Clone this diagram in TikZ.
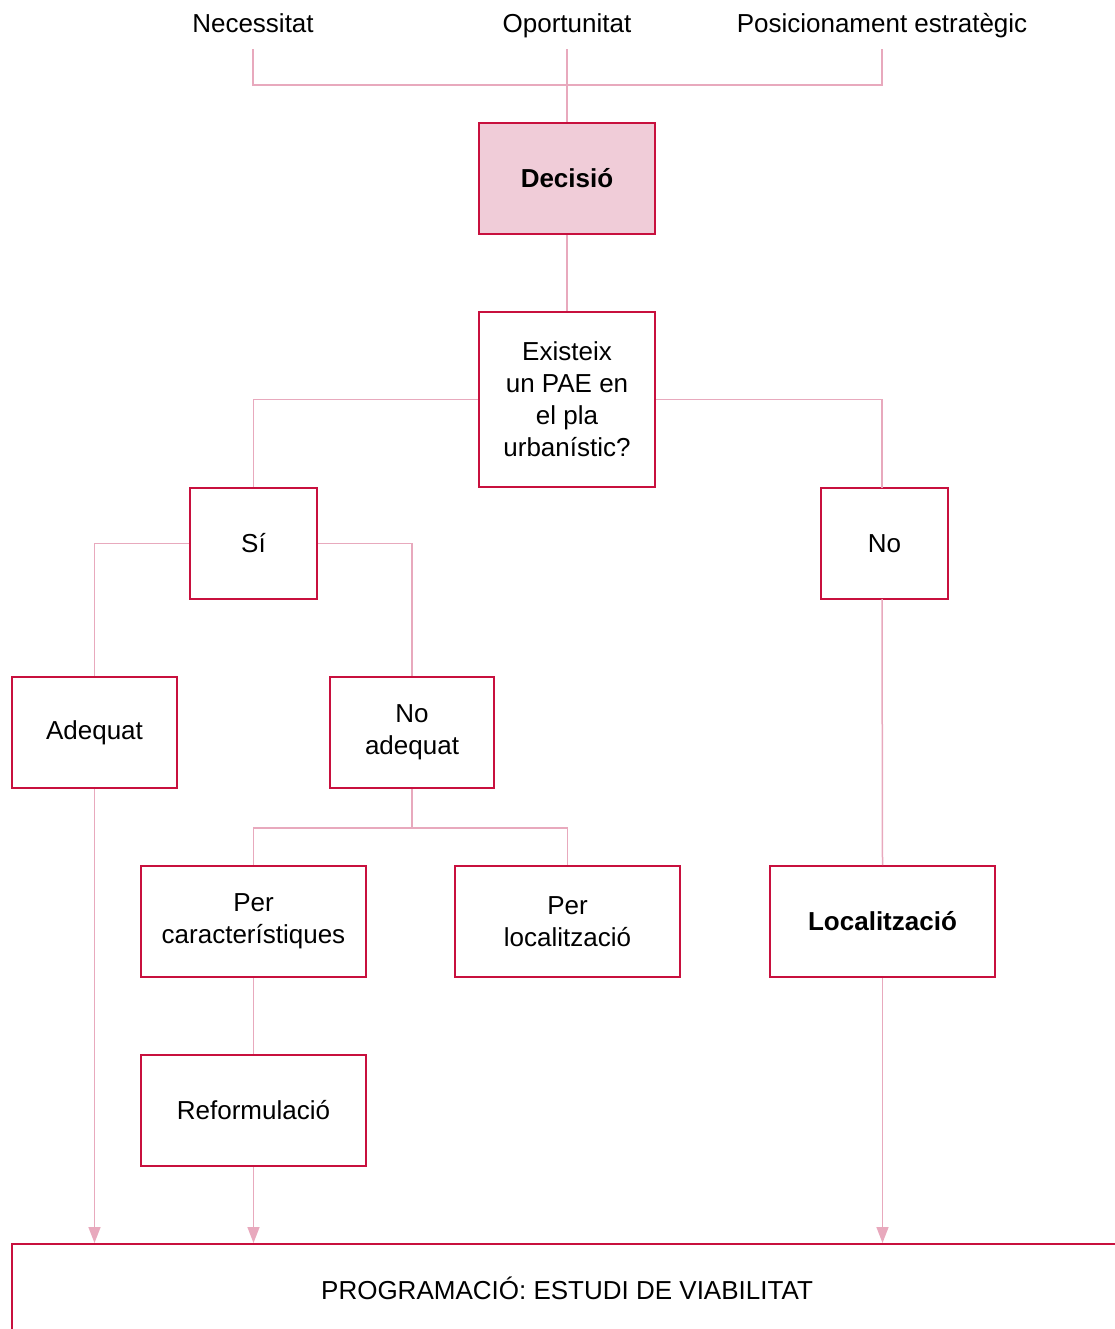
\documentclass[tikz,border=0pt]{standalone}
\usepackage{fontspec}
\setmainfont{Liberation Sans}
\usetikzlibrary{arrows.meta,positioning}
\definecolor{boxred}{HTML}{C8103E}
\definecolor{linkpink}{HTML}{E8A9BD}
\definecolor{decfill}{HTML}{F0CCD8}
\tikzset{
  basic/.style  = {draw=boxred, line width=2pt, rectangle, align=center, inner sep=0pt,
                   font=\fontsize{26}{32}\selectfont},
  box/.style    = {basic, minimum height=111pt},
  head/.style   = {align=center, anchor=base, text height=18pt, text depth=6pt, inner ysep=10pt,
                   font=\fontsize{26}{32}\selectfont},
  link/.style   = {draw=linkpink, line width=1.5pt},
  down/.style   = {link, -{Triangle[length=16pt,width=12pt]}, fill=linkpink}
}
\begin{document}
\begin{tikzpicture}[x=1pt,y=-1pt]
    \useasboundingbox (0,0) rectangle (1115,1329);

    % the three starting points on top
    \node[head] (nec) at (253,33) {Necessitat};
    \node[head] (opo) at (567,33) {Oportunitat};
    \node[head] (pos) at (882,33) {Posicionament estratègic};

    % first level
    \node[box, fill=decfill, minimum width=176pt, font=\fontsize{26}{32}\selectfont\bfseries] (dec) at (567,178.5) {Decisió};
    \node[basic, minimum width=176pt, minimum height=175pt] (pae) at (567,399.5) {Existeix\\un PAE en\\el pla\\urbanístic?};

    % answers
    \node[box, minimum width=127pt] (si) at (253.5,543.5) {Sí};
    \node[box, minimum width=127pt] (no) at (884.5,543.5) {No};
    \node[box, minimum width=165pt] (adq) at (94.5,732.5) {Adequat};
    \node[box, minimum width=164pt] (nadq) at (412,732.5) {No\\adequat};

    % reasons
    \node[box, minimum width=225pt] (car) at (253.5,921.5) {Per\\característiques};
    \node[box, minimum width=225pt] (loc) at (567.5,921.5) {Per\\localització};
    \node[box, minimum width=225pt, font=\fontsize{26}{32}\selectfont\bfseries] (lcz) at (882.5,921.5) {Localització};
    \node[box, minimum width=225pt] (ref) at (253.5,1110.5) {Reformulació};

    % final step
    \node[basic, minimum width=1110pt, minimum height=88pt] (prog) at (567,1288) {PROGRAMACIÓ: ESTUDI DE VIABILITAT};

    % top joins
    \coordinate (jtop) at (567,85);
    \draw[link] (nec.south) |- (jtop) -| (pos.south);
    \draw[link] (opo.south) -- (dec.north);
    \draw[link] (dec.south) -- (pae.north);

    % branches
    \draw[link] (pae.west) -| (si.north);
    \draw[link] (pae.east) -| (882,488);
    \draw[link] (si.west) -| (adq.north);
    \draw[link] (si.east) -| (nadq.north);
    \coordinate (jnadq) at (412,828);
    \draw[link] (nadq.south) -- (jnadq);
    \foreach \child in {car,loc}
      \draw[link] (jnadq) -| (\child.north);
    \draw[link] (882,599) -- (lcz.north);
    \draw[link] (car.south) -- (ref.north);

    % arrows to the programme
    \draw[down] (adq.south) -- (adq.south |- prog.north);
    \draw[down] (ref.south) -- (ref.south |- prog.north);
    \draw[down] (lcz.south) -- (lcz.south |- prog.north);
\end{tikzpicture}
\end{document}
